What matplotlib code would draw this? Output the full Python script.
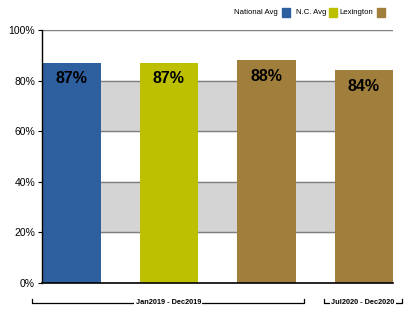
import matplotlib.pyplot as plt
from matplotlib.patches import Rectangle

plt.rcParams["font.family"] = ["Liberation Sans", "DejaVu Sans"]

series = ["National Avg", "N.C. Avg", "Lexington", "Lexington"]
values = [87, 87, 88, 84]
colors = ["#2e5f9f", "#bcc000", "#a07f3c", "#a07f3c"]
legend_names = ["National Avg", "N.C. Avg", "Lexington"]
legend_colors = ["#2e5f9f", "#bcc000", "#a07f3c"]
periods = ["Jan2019 - Dec2019", "Jul2020 - Dec2020"]
period_spans = [(-0.40, 2.39), (2.59, 3.39)]
yticks = [0, 20, 40, 60, 80, 100]

W, H = 417, 331
fig = plt.figure(figsize = (W / 100, H / 100), dpi = 100)
ax = fig.add_axes([42 / W, 48 / H, 351 / W, 253 / H])

# alternating grey bands behind the bars
for lo, hi in [(20, 40), (60, 80)]:
    ax.axhspan(lo, hi, color = "#d4d4d4", zorder = 0)
for y in yticks[1:]:
    ax.axhline(y, color = "#7f7f7f", linewidth = 1, zorder = 1)

x = range(len(values))
ax.bar(x, values, width = 0.6, color = colors, zorder = 2)

for xi, v in zip(x, values):
    ax.annotate(
        f"{v}%", (xi, v),
        xytext = (0, -6), textcoords = "offset points",
        ha = "center", va = "top",
        fontsize = 11.5, fontweight = "bold", zorder = 3
    )

ax.set_xlim(-0.3, 3.3)
ax.set_ylim(0, 100)
ax.set_yticks(yticks)
ax.set_yticklabels([f"{t}%" for t in yticks], fontsize = 7.5)
ax.tick_params(axis = "y", length = 3, width = 0.8, pad = 2)
ax.set_xticks([])
for side in ["top", "right"]:
    ax.spines[side].set_visible(False)
ax.spines["left"].set_linewidth(1)
ax.spines["bottom"].set_linewidth(1.2)

# period brackets under the axis
trans = ax.get_xaxis_transform()
for label, (x0, x1) in zip(periods, period_spans):
    ax.plot([x0, x0, x1, x1], [-0.063, -0.079, -0.079, -0.063],
            color = "black", linewidth = 0.9, transform = trans, clip_on = False)
    ax.text((x0 + x1) / 2, -0.079, label, transform = trans,
            ha = "center", va = "center", fontsize = 5.3, fontweight = "semibold",
            bbox = dict(facecolor = "white", edgecolor = "none", pad = 1))

# legend: label followed by its colour square
text_x = [234, 296, 339]
box_x = [282, 329, 377]
for name, col, tx, bx in zip(legend_names, legend_colors, text_x, box_x):
    fig.text(tx / W, 1 - 12.5 / H, name, fontsize = 5.6, va = "center", ha = "left")
    fig.patches.append(Rectangle(
        (bx / W, 1 - 16.5 / H), 8 / W, 8 / H,
        transform = fig.transFigure, color = col
    ))

fig.savefig("out.png", dpi = 100)
